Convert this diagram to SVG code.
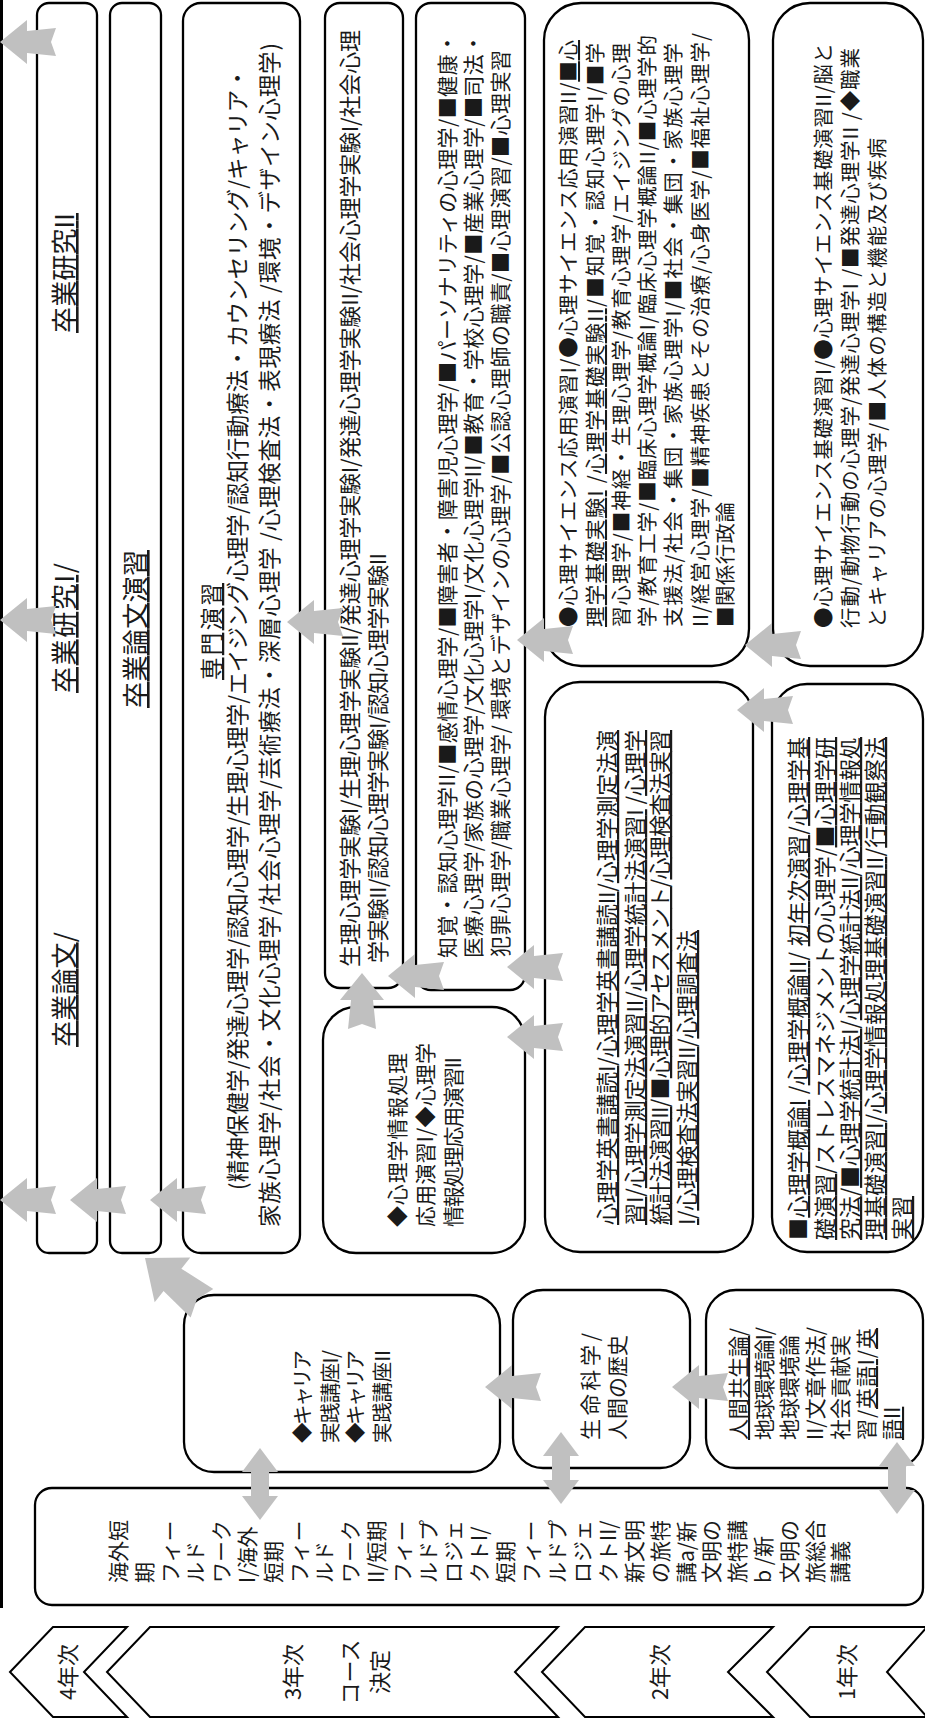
<svg xmlns="http://www.w3.org/2000/svg" xmlns:xlink="http://www.w3.org/1999/xlink" width="925" height="1720" viewBox="0 0 925 1720">
<style>
.box{fill:#fff;stroke:#000;stroke-width:2.3}
.chev{fill:#fff;stroke:#000;stroke-width:2}
.t{font-family:"Noto Sans CJK JP","Noto Sans",sans-serif;font-size:20.5px;fill:#1a1a1a}
.h{font-size:26px}
.c{font-size:22.5px}
.d{font-size:22px}
.e{font-size:21px}
.y{font-size:22px;text-anchor:middle}
.u{text-decoration:underline;text-decoration-thickness:2.5px}
.arr{fill:#c0c0c0}
</style>
<defs>
<path id="al" d="M0,0 L27,-22 L27,-11 L56,-14 L51,0 L56,14 L27,11 L27,22 Z"/>
<path id="dv" d="M0,-36 L18,-12 L9,-12 L9,12 L18,12 L0,36 L-18,12 L-9,12 L-9,-12 L-18,-12 Z"/>
</defs>
<rect width="925" height="1720" fill="#fff"/>
<line x1="1.5" y1="0" x2="1.5" y2="1608" stroke="#000" stroke-width="3"/>

<g id="nA">
<rect class="box" x="37" y="3" width="60" height="1250" rx="12"/>
<g transform="translate(0,1720) rotate(-90)">
<text class="t h" x="1387" y="74" textLength="120"><tspan class="u">卒業研究II</tspan></text>
<text class="t h" x="1027" y="74" textLength="130"><tspan class="u">卒業研究I</tspan>/</text>
<text class="t h" x="673" y="74" textLength="115"><tspan class="u">卒業論文</tspan>/</text>
</g></g>

<g id="nB">
<rect class="box" x="110" y="3" width="51" height="1250" rx="12"/>
<g transform="translate(0,1720) rotate(-90)">
<text class="t h" x="1012" y="145" textLength="158"><tspan class="u">卒業論文演習</tspan></text>
</g></g>

<g id="nC">
<rect class="box" x="183" y="3" width="117" height="1250" rx="18"/>
<g transform="translate(0,1720) rotate(-90)">
<text class="t c" x="1040" y="220" textLength="97"><tspan class="u">専門演習</tspan></text>
<text class="t c" x="530" y="246" textLength="1123">(精神保健学/発達心理学/認知心理学/生理心理学/エイジング心理学/認知行動療法・カウンセリング/キャリア・</text>
<text class="t c" x="493" y="278" textLength="1184">家族心理学/社会・文化心理学/社会心理学/芸術療法・深層心理学 /心理検査法・表現療法 /環境・デザイン心理学)</text>
</g></g>

<g id="nD">
<rect class="box" x="325" y="3" width="78" height="985" rx="15"/>
<g transform="translate(0,1720) rotate(-90)">
<text class="t d" x="753" y="358" textLength="937">生理心理学実験I/生理心理学実験II/発達心理学実験I/発達心理学実験II/社会心理学実験I/社会心理</text>
<text class="t d" x="757" y="386" textLength="410">学実験II/認知心理学実験I/認知心理学実験II</text>
</g></g>

<g id="nE">
<rect class="box" x="416" y="3" width="109" height="987" rx="15"/>
<g transform="translate(0,1720) rotate(-90)">
<text class="t e" x="762" y="455" textLength="925">知覚・認知心理学II/■感情心理学/■障害者・障害児心理学/■パーソナリティの心理学/■健康・</text>
<text class="t e" x="762" y="481" textLength="925">医療心理学/家族の心理学/文化心理学I/文化心理学II/■教育・学校心理学/■産業心理学/■司法・</text>
<text class="t e" x="763" y="508" textLength="907">犯罪心理学/職業心理学/ 環境とデザインの心理学/■公認心理師の職責/■心理演習/■心理実習</text>
</g></g>

<g id="nF">
<rect class="box" x="323" y="1007" width="202" height="246" rx="33"/>
<g transform="translate(0,1720) rotate(-90)">
<text class="t e" x="493" y="405" textLength="174">◆心理学情報処理</text>
<text class="t e" x="493" y="433" textLength="184">応用演習I/◆心理学</text>
<text class="t e" x="493" y="461" textLength="170">情報処理応用演習II</text>
</g></g>

<g id="nG">
<rect class="box" x="544" y="3" width="205" height="663" rx="37"/>
<g transform="translate(0,1720) rotate(-90)">
<text class="t" x="1093" y="576" textLength="587">●心理サイエンス応用演習I/●心理サイエンス応用演習II/<tspan class="u">■心</tspan></text>
<text class="t" x="1093" y="603" textLength="584"><tspan class="u">理学基礎実験I</tspan> /<tspan class="u">心理学基礎実験II</tspan>/■知覚・認知心理学I/■学</text>
<text class="t" x="1093" y="629" textLength="584">習心理学/■神経・生理心理学/教育心理学/エイジングの心理</text>
<text class="t" x="1093" y="655" textLength="592">学/教育工学/■臨床心理学概論I/臨床心理学概論II/■心理学的</text>
<text class="t" x="1093" y="681" textLength="584">支援法/社会・集団・家族心理学I/■社会・集団・家族心理学</text>
<text class="t" x="1093" y="708" textLength="594">II/経営心理学/■精神疾患とその治療/心身医学/■福祉心理学/</text>
<text class="t" x="1093" y="733" textLength="125">■関係行政論</text>
</g></g>

<g id="nH">
<rect class="box" x="773" y="3" width="150" height="663" rx="37"/>
<g transform="translate(0,1720) rotate(-90)">
<text class="t" x="1092" y="831" textLength="585">●心理サイエンス基礎演習I/●心理サイエンス基礎演習II/脳と</text>
<text class="t" x="1092" y="858" textLength="580">行動/動物行動の心理学/発達心理学I /■発達心理学II /◆職業</text>
<text class="t" x="1092" y="885" textLength="490">とキャリアの心理学/■人体の構造と機能及び疾病</text>
</g></g>

<g id="nI">
<rect class="box" x="545" y="682" width="208" height="570" rx="35"/>
<g transform="translate(0,1720) rotate(-90)">
<text class="t d" x="495" y="615" textLength="495"><tspan class="u">心理学英書講読I</tspan>/<tspan class="u">心理学英書講読II</tspan>/<tspan class="u">心理学測定法演</tspan></text>
<text class="t d" x="495" y="643" textLength="495"><tspan class="u">習I</tspan>/<tspan class="u">心理学測定法演習II</tspan>/<tspan class="u">心理学統計法演習I</tspan> /<tspan class="u">心理学</tspan></text>
<text class="t d" x="495" y="668" textLength="495"><tspan class="u">統計法演習II</tspan>/■<tspan class="u">心理的アセスメント</tspan>/<tspan class="u">心理検査法実習</tspan></text>
<text class="t d" x="495" y="695" textLength="295"><tspan class="u">I</tspan>/<tspan class="u">心理検査法実習II</tspan>/<tspan class="u">心理調査法</tspan></text>
</g></g>

<g id="nJ">
<rect class="box" x="772" y="684" width="151" height="568" rx="35"/>
<g transform="translate(0,1720) rotate(-90)">
<text class="t d" x="480" y="806" textLength="503">■<tspan class="u">心理学概論I</tspan> /<tspan class="u">心理学概論II</tspan>/ <tspan class="u">初年次演習</tspan>/<tspan class="u">心理学基</tspan></text>
<text class="t d" x="480" y="833" textLength="503"><tspan class="u">礎演習</tspan>/ストレスマネジメントの心理学/<tspan class="u">■心理学研</tspan></text>
<text class="t d" x="480" y="858" textLength="503"><tspan class="u">究法</tspan>/<tspan class="u">■心理学統計法I</tspan>/<tspan class="u">心理学統計法II</tspan>/<tspan class="u">心理学情報処</tspan></text>
<text class="t d" x="480" y="883" textLength="503"><tspan class="u">理基礎演習I</tspan>/<tspan class="u">心理学情報処理基礎演習II</tspan>/<tspan class="u">行動観察法</tspan></text>
<text class="t d" x="480" y="910"><tspan class="u">実習</tspan></text>
</g></g>

<g id="nK">
<rect class="box" x="184" y="1295" width="316" height="177" rx="30"/>
<g transform="translate(0,1720) rotate(-90)">
<text class="t" x="277" y="310" textLength="93">◆キャリア</text>
<text class="t" x="277" y="338" textLength="93">実践講座I/</text>
<text class="t" x="277" y="363" textLength="93">◆キャリア</text>
<text class="t" x="277" y="390" textLength="93">実践講座II</text>
</g></g>

<g id="nL">
<rect class="box" x="513" y="1290" width="177" height="178" rx="30"/>
<g transform="translate(0,1720) rotate(-90)">
<text class="t e" x="280" y="598" textLength="107">生命科学/</text>
<text class="t e" x="280" y="625" textLength="105">人間の歴史</text>
</g></g>

<g id="nM">
<rect class="box" x="706" y="1290" width="217" height="178" rx="30"/>
<g transform="translate(0,1720) rotate(-90)">
<text class="t e" x="280" y="746" textLength="112"><tspan class="u">人間共生論</tspan>/</text>
<text class="t e" x="280" y="772" textLength="113">地球環境論I/</text>
<text class="t e" x="280" y="797" textLength="105">地球環境論</text>
<text class="t e" x="280" y="823" textLength="113">II/文章作法/</text>
<text class="t e" x="280" y="848" textLength="105">社会貢献実</text>
<text class="t e" x="280" y="874" textLength="112">習/<tspan class="u">英語I</tspan>/<tspan class="u">英</tspan></text>
<text class="t e" x="280" y="900"><tspan class="u">語II</tspan></text>
</g></g>

<g id="nN">
<rect class="box" x="35" y="1488" width="888" height="117" rx="17"/>
<g transform="translate(0,1720) rotate(-90)">
<text class="t e" x="137" y="126">海外短</text>
<text class="t e" x="137" y="151.8">期</text>
<text class="t e" x="137" y="177.6">フィー</text>
<text class="t e" x="137" y="203.4">ルド</text>
<text class="t e" x="137" y="229.2">ワーク</text>
<text class="t e" x="137" y="255">I/海外</text>
<text class="t e" x="137" y="280.8">短期</text>
<text class="t e" x="137" y="306.6">フィー</text>
<text class="t e" x="137" y="332.4">ルド</text>
<text class="t e" x="137" y="358.2">ワーク</text>
<text class="t e" x="137" y="384">II/短期</text>
<text class="t e" x="137" y="409.8">フィー</text>
<text class="t e" x="137" y="435.6">ルドプ</text>
<text class="t e" x="137" y="461.4">ロジェ</text>
<text class="t e" x="137" y="487.2">クトI/</text>
<text class="t e" x="137" y="513">短期</text>
<text class="t e" x="137" y="538.8">フィー</text>
<text class="t e" x="137" y="564.6">ルドプ</text>
<text class="t e" x="137" y="590.4">ロジェ</text>
<text class="t e" x="137" y="616.2">クトII/</text>
<text class="t e" x="137" y="642">新文明</text>
<text class="t e" x="137" y="667.8">の旅特</text>
<text class="t e" x="137" y="693.6">講a/新</text>
<text class="t e" x="137" y="719.4">文明の</text>
<text class="t e" x="137" y="745.2">旅特講</text>
<text class="t e" x="137" y="771">b /新</text>
<text class="t e" x="137" y="796.8">文明の</text>
<text class="t e" x="137" y="822.6">旅総合</text>
<text class="t e" x="137" y="848.4">講義</text>
</g></g>

<g id="years">
<g id="y4"><polygon class="chev" points="10,1672 53,1627 127,1627 84,1672 127,1717 53,1717"/></g>
<g id="y3"><polygon class="chev" points="107,1672 150,1627 558,1627 515,1672 558,1717 150,1717"/></g>
<g id="y2"><polygon class="chev" points="542,1672 585,1627 773,1627 728,1672 773,1717 585,1717"/></g>
<g id="y1"><polygon class="chev" points="767,1672 810,1627 927,1627 887,1672 927,1717 810,1717"/></g>
<g transform="translate(0,1720) rotate(-90)">
<text class="t y" x="48" y="76">4年次</text>
<text class="t y" x="48" y="301">3年次</text>
<text class="t y" x="48" y="358">コース</text>
<text class="t y" x="48" y="388">決定</text>
<text class="t y" x="48" y="668">2年次</text>
<text class="t y" x="48" y="855">1年次</text>
</g>
</g>

<g id="connectors" class="arr">
<use href="#al" transform="translate(0,42)"/>
<use href="#al" transform="translate(0,620)"/>
<use href="#al" transform="translate(0,1200)"/>
<use href="#al" transform="translate(70,1200)"/>
<use href="#al" transform="translate(150,1200)"/>
<use href="#al" transform="translate(287,622)"/>
<use href="#al" transform="translate(388,976)"/>
<use href="#al" transform="translate(362,973) rotate(90)"/>
<use href="#al" transform="translate(517,640)"/>
<use href="#al" transform="translate(745,645)"/>
<use href="#al" transform="translate(507,967)"/>
<use href="#al" transform="translate(507,1037)"/>
<use href="#al" transform="translate(737,710)"/>
<use href="#al" transform="translate(145,1258) rotate(38.5) scale(1.3)"/>
<use href="#al" transform="translate(485,1387)"/>
<use href="#al" transform="translate(672,1387)"/>
<use href="#dv" transform="translate(260,1484)"/>
<use href="#dv" transform="translate(561,1468)"/>
<use href="#dv" transform="translate(897,1478)"/>
</g>
</svg>
